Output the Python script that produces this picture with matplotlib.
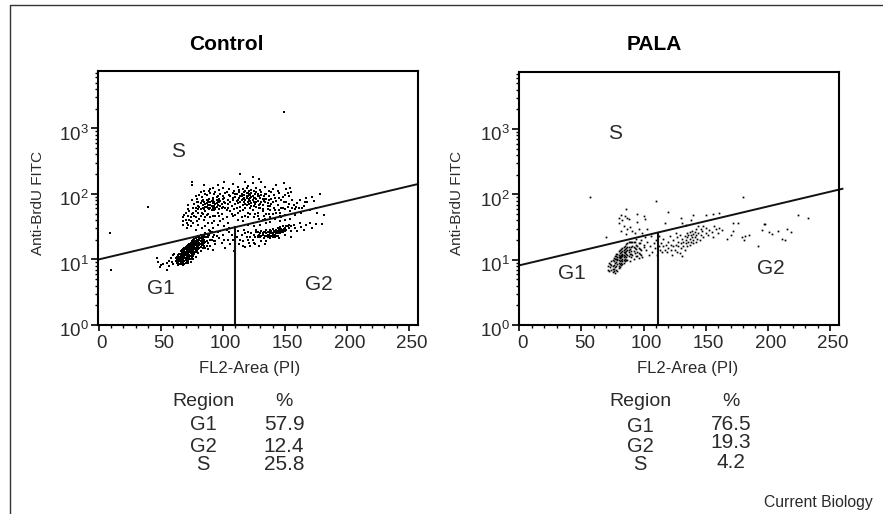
import numpy as np
import matplotlib
matplotlib.use('Agg')
import matplotlib.pyplot as plt
from matplotlib.lines import Line2D
from matplotlib.ticker import FixedLocator, NullFormatter
from matplotlib.transforms import ScaledTranslation

plt.rcParams['font.family'] = ['Liberation Sans', 'DejaVu Sans']
plt.rcParams['mathtext.fontset'] = 'custom'
plt.rcParams['mathtext.rm'] = 'Liberation Sans'
plt.rcParams['mathtext.default'] = 'regular'

TEXT = '#2a2a2a'

x_ticks = [0, 50, 100, 150, 200, 250]
region_names = ['G1', 'G2', 'S']
ctrl_pct = ['57.9', '12.4', '25.8']
pala_pct = ['76.5', '19.3', '4.2']

ctrl_gate = ([0, 256], [10, 140])
pala_gate = ([0, 260], [8.2, 122])
ctrl_split = ([110, 110], [1, 31])
pala_split = ([111.5, 111.5], [1, 26])

# (FL2, FITC), region by region
ctrl_g1 = [(62,9.5),(62,10.5),(63,8.8),(63,10),(63,11),(64,9),(64,9.8),(64,10.6),(64,11.5),(65,8.6),(65,9.4),(65,10.2),
    (65,11),(65,12),(66,9),(66,9.8),(66,10.5),(66,11.3),(66,12.3),(67,8.8),(67,9.6),(67,10.4),(67,11.1),(67,11.9),(67,12.8),
    (68,9.2),(68,10),(68,10.8),(68,11.6),(68,12.4),(68,13.2),(69,9.6),(69,10.4),(69,11.2),(69,12),(69,12.8),(69,13.8),
    (70,9.8),(70,10.7),(70,11.5),(70,12.3),(70,13.2),(70,14.2),(71,10.2),(71,11),(71,11.9),(71,12.7),(71,13.6),(71,14.6),
    (72,10.6),(72,11.4),(72,12.2),(72,13.1),(72,14),(72,15.2),(73,11),(73,11.9),(73,12.8),(73,13.7),(73,14.7),(73,15.8),
    (74,11.4),(74,12.4),(74,13.3),(74,14.3),(74,15.4),(74,16.6),(75,12),(75,13),(75,14),(75,15),(75,16.2),(75,17.4),
    (76,12.6),(76,13.6),(76,14.7),(76,15.8),(76,17),(76,18.2),(77,13.2),(77,14.3),(77,15.4),(77,16.6),(77,17.8),(77,19),
    (78,14),(78,15.2),(78,16.4),(78,17.6),(78,19),(79,14.8),(79,16),(79,17.2),(79,18.6),(79,20),(80,15.6),(80,17),(80,18.4),(80,20),
    (81,16.4),(81,18),(81,19.6),(81,21),(82,17.4),(82,19),(82,21),(83,18),(83,20),(84,19),(84,21),(85,16),(85,20),(86,22),(88,14.5),(88,18),
    (48,9),(50,8.2),(47,10.5),(52,8.5),(55,7),(55,8.8),(57,9.5),(57,8),(58,10.5),(60,11.5),(60,8.5),(61,12),(59,9.3),(49,7.8),(10,7),(9,25),(40,63),(149,1750)]

ctrl_g1_wide = [(66,13.5),(67,14),(68,14.5),(69,15),(70,15.5),(71,16),(72,16.8),(73,17.4),(74,18),(75,18.8),(76,19.6),(77,20.5),(78,21),(79,22),(80,23),(81,23),
    (82,24),(83,22),(84,24),(85,23),(86,25),(87,19),(87,22),(88,24),(72,9.5),(73,10),(74,10.3),(75,10.8),(76,11.4),(77,12),(78,12.8),(79,13.4),(80,14.2),(81,15),
    (82,15.6),(83,16.5),(84,17.2),(85,18),(86,18.5),(86,15),(87,16),(69,8.6),(70,8.9),(71,9.2),(72,8.8),(66,8.4),(68,8.3),(64,8.3),(74,9.3),(76,10.2),(78,11),(80,12.4),
    (82,13.6),(84,15),(90,16),(90,20),(92,14),(92,22),(89,24),(91,26),(94,19)]

ctrl_s = [(114,198),(124,178),(129,168),(75,150),(75,135),(85,135),(101,150),(108,140),(118,150),(124,145),(131,150),(149,148),(143,135),(96,135),
    (92,122),(100,125),(105,118),(112,128),(120,130),(127,122),(134,128),(140,118),(151,118),(154,125),(116,118),(89,112),(82,108),
    (86,100),(90,104),(94,106),(98,100),(103,108),(108,103),(111,99),(113,107),(115,101),(118,110),(120,104),(122,97),(125,110),(128,100),(131,106),(135,98),(139,108),(145,102),(150,96),(155,108),
    (78,92),(83,90),(87,95),(92,88),(96,92),(101,86),(106,94),(110,90),(114,92),(117,88),(119,94),(121,84),(123,90),(126,86),(129,94),(133,84),(137,92),(142,88),(147,82),(153,92),
    (75,80),(79,76),(82,72),(84,82),(86,70),(88,78),(90,74),(92,82),(94,70),(96,78),(98,66),(101,76),(104,70),(108,80),(112,72),(115,80),(117,74),(119,68),(121,78),(123,72),(125,66),(127,76),(130,70),(133,78),(136,66),(140,74),(144,68),(149,76),(152,64),
    (72,68),(76,60),(80,66),(82,58),(84,62),(86,54),(87,64),(89,58),(91,66),(93,56),(94,62),(96,52),(99,60),(103,56),(107,50),(111,62),(114,54),(118,60),(120,52),(122,62),(124,56),(126,50),(129,60),(132,54),(136,58),(140,50),(145,56),(150,48),(156,60),
    (70,52),(72,46),(75,50),(78,44),(80,52),(82,46),(85,40),(87,48),(90,44),(93,38),(97,46),(100,42),(104,36),(108,46),(112,40),(116,38),(120,44),(124,36),(128,46),(132,40),(134,42),(138,44),(142,42),(146,46),(150,40),(154,42),
    (68,44),(68,38),(68,33),(71,36),(73,40),(71,30),(74,32),(76,36),(78,28),(80,34),(83,30),(86,32),(89,28),(92,30),(96,34),(101,32),(105,30),(120,34),(125,32),(130,34),(135,36),(138,37),(146,38),
    (148,62),(153,70),(158,58),(162,80),(165,66),(168,74),(170,56),(172,90),(175,62),(178,98),(173,78),(167,88),(160,72),(181,48),(176,52),(163,52),(158,48)]

ctrl_s_dense = [(80,74),(81,64),(83,78),(84,68),(85,58),(85,74),(86,64),(87,82),(87,72),(88,60),(88,68),(89,84),(89,74),(90,62),(90,68),(91,78),(91,56),(92,72),(92,62),(93,76),(93,66),(94,58),(95,82),(95,72),
    (95,64),(96,68),(97,84),(97,74),(97,58),(98,78),(99,70),(100,64),(100,84),(102,72),(110,98),(112,82),(113,88),(114,76),(115,92),(116,84),(116,68),(117,96),(118,80),(118,70),(119,86),(119,104),(120,76),(120,92),
    (121,70),(121,98),(122,86),(122,78),(123,66),(123,104),(124,82),(124,94),(125,74),(125,88),(126,98),(126,70),(127,84),(127,64),(128,92),(128,78),(129,68),(130,86),(130,62),(131,96),(131,76),(132,84),(132,68),(133,92),(134,74),(135,84),(136,72),(137,80),(138,66),(139,84),
    (72,58),(74,44),(76,52),(73,54),(74,38),(77,46),(78,62),(79,38),(81,42),(84,50),(70,40),(72,34),(69,48),(88,36),(92,46),(98,38),(104,62),(106,76),(109,58),(110,70),(128,52),(133,46),(137,50),(141,62),(143,52),(147,60),(147,44)]

ctrl_s_sprinkle = [(77,70),(78,54),(79,84),(80,58),(81,96),(83,52),(85,110),(86,44),(88,50),(90,118),(91,36),(93,100),(94,46),(95,90),(97,116),(99,50),(100,94),(102,62),(102,104),(103,44),(104,82),(105,96),(106,54),(107,66),(108,88),
    (109,112),(110,48),(111,78),(112,52),(113,116),(114,64),(115,44),(116,56),(117,108),(118,46),(119,122),(121,112),(122,50),(123,116),(125,44),(127,108),(129,42),(130,116),(132,58),(134,100),(135,50),(137,112),(138,56),(139,70),(141,96),(142,56),(143,78),(144,112),(145,86),(146,52),(148,90),(150,58),(151,74),(152,104),(154,54),(156,82),(157,68),(159,64),(161,60),(164,60),(166,76)]

ctrl_mid = [(86,25),(88,22),(90,27),(91,20),(93,24),(94,17),(96,26),(97,21),(99,18),(100,24),(102,15),(103,28),(104,20),(106,17),(107,24),(109,13.5),
    (111,22),(112,27),(113,17),(115,24),(116,19),(117,28),(118,15.5),(119,22),(120,26),(121,18),(122,16),(123,25),(124,20),(126,17),(127,28),(128,22),
    (93,19),(95,23),(98,27),(101,20),(105,26),(108,20),(110,16),(114,20),(116,16),(118,25),(120,20),(122,22),(125,18),(129,16),(131,19),(134,17)]

ctrl_g2 = [(125,24),(127,26),(128,23),(130,25),(130,22),(131,27),(132,24),(133,21),(133,26),(134,23),(135,25),(135,28),(136,22),(136,24),(137,26),(137,23),
    (138,21),(138,25),(138,28),(139,23),(139,27),(140,22),(140,25),(140,29),(141,24),(141,27),(142,22),(142,26),(143,25),(143,28),(144,23),(144,27),(144,30),
    (145,25),(145,29),(146,27),(146,31),(147,26),(147,29),(148,28),(148,32),(149,27),(150,30),(151,28),(152,32),(153,30),(155,27),(157,34),(158,30),(160,27),
    (162,36),(163,31),(165,28),(167,33),(170,36),(172,30),(175,35),(180,35),(135,19),(145,21),(150,24),(155,22),
    (129,24),(131,23),(132,25),(134,26),(135,23),(136,26),(137,24),(138,23),(139,25),(140,24),(141,26),(141,22),(142,24),(143,23),(143,27),(144,25),(145,27),(146,25),(147,28),(148,26),(149,29),(150,27),(128,26),(126,22),(151,32),(153,33),(155,32)]

pala_g1 = [(71,8),(71,7),(72,9),(72,6.6),(73,7.6),(73,8.6),(74,7),(74,9.5),(75,6.4),(75,8),(75,10),(76,7.2),(76,8.4),(76,9.6),(77,6.2),(77,7.6),(77,8.8),(77,10.4),
    (78,8),(78,9.2),(78,10.2),(78,11.2),(79,6.8),(79,8.6),(79,9.8),(79,11),(80,8),(80,9),(80,10),(80,11),(80,12),(81,8.6),(81,9.6),(81,10.6),(81,11.6),(81,12.6),
    (82,9),(82,10),(82,11),(82,12),(82,13),(83,9.4),(83,10.4),(83,11.4),(83,12.4),(83,13.4),(84,10),(84,11),(84,12),(84,13),(84,14),(85,10.4),(85,11.6),(85,12.6),(85,14.4),
    (86,11),(86,12.4),(86,15),(87,10),(87,12),(87,14),(87,15.8),(88,11.4),(88,13),(88,15.6),(89,9.4),(89,12.4),(89,14.6),(90,11),(90,13.4),(90,15.8),(91,12),(91,16.4),(92,10.4),(92,13.6),
    (93,15.2),(94,11.6),(94,17),(95,13),(96,10.8),(96,15),(97,12.4),(97,17.8),(98,14),(99,11),(100,15.6)]

pala_g1_dense = [(79,12.4),(80,13.4),(81,14),(82,14.6),(83,15),(84,15.6),(85,16.4),(86,17.2),(87,18),(88,18.4),(89,18.6),(90,18.6),(91,18.6),(92,18.6),(93,18.4),(94,14.4),(95,16),(96,12.6),(97,14.8),(98,11.8),
    (75,7.2),(76,6.6),(78,7),(80,7.4),(81,7.8),(82,8.2),(83,8.6),(84,9),(85,9.4),(86,9.8),(78,12.4),(77,11.6),(76,10.8),(74,8.2),(79,10.4),(81,11),(83,12),(85,13.2),(86,13.6),(88,14.2),(90,12.2),(92,15.4),(93,12.8),(95,11.2)]

pala_s = [(57,92),(110,78),(120,53),(180,92),(86,60),(82,48),(85,46),(87,44),(80,43),(83,40),(88,42),(95,50),(100,46),(80,36),(84,33),(87,30),(89,32),(91,28),(82,28),
    (95,38),(101,42),(96,30),(99,26),(103,30),(93,26),(86,25),(70,22),(140,48),(150,48),(156,50),(161,52),(130,44),(131,36),(117,37),(134,34),(138,40)]

pala_mid = [(94,21),(96,18),(98,20),(100,17),(101,22),(102,14),(103,19),(104,12),(105,16),(106,23),(107,13),(108,18),(109,15),(110,20),(111,12),(112,16),(112,23),
    (113,14),(114,18),(115,13),(116,16),(116,21),(117,14),(118,17),(119,13),(120,19),(120,15),(121,23),(122,14),(122,17),(123,12),(124,16),(124,20),(125,14),(126,17),(126,26),
    (127,13),(127,22),(128,16),(128,19),(129,12.5),(129,24),(130,15),(130,18),(131,21),(131,11.5),(132,16),(132,19),(133,23),(133,14),(134,18),(134,20),(135,16),(135,22),(135,26),
    (136,19),(136,24),(137,17),(137,21),(137,27),(138,19),(138,24),(139,22),(139,28),(140,18),(140,20),(140,25),(141,22),(141,27),(142,19),(142,24),(142,30),(143,21),(144,26),(144,33),
    (145,20),(146,24),(146,30),(147,28),(148,22),(148,33),(150,26),(150,31),(152,24),(153,29),(155,27),(156,22),(157,33),(158,30),(160,26),(161,31),(163,29),(167,21),(170,24),(172,28)]

pala_g2 = [(172,36),(176,36),(179,22),(181,20),(182,23),(185,24),(192,16.5),(195,29),(197,35),(198,35),(201,27),(203,25),(208,28),(211,21),(214,20),(215,30),(219,27),(224,48),(232,44)]


def draw_panel(ax, dots, gate, split, labels, ms):
    pts = np.array(dots)
    ax.plot(pts[:, 0], pts[:, 1], ls='none', marker='s', ms=ms, mew=0, color='black')
    ax.plot(gate[0], gate[1], color='#111111', lw=1.4, clip_on=False)
    ax.plot(split[0], split[1], color='#111111', lw=1.5)
    ax.set_xlim(-0.5, 257)
    ax.set_ylim(1, 7500)
    ax.set_yscale('log')
    ax.set_yticks([1, 10, 100, 1000])
    ax.yaxis.set_minor_locator(FixedLocator([m * 10 ** d for d in range(4) for m in range(2, 10) if m * 10 ** d < 7500]))
    ax.yaxis.set_minor_formatter(NullFormatter())
    ax.set_xticks(x_ticks)
    ax.set_xticks(np.arange(0, 257, 10), minor=True)
    ax.tick_params(axis='both', which='major', length=5, width=1.2, labelsize=13.5, labelcolor=TEXT)
    ax.tick_params(axis='x', which='major', length=4, pad=3.5)
    ax.tick_params(axis='y', which='major', pad=1.5)
    ax.tick_params(axis='both', which='minor', length=2.5, width=1)
    # tick labels sit a little right of / below their ticks in the original
    for lab in ax.get_xticklabels():
        lab.set_transform(lab.get_transform() + ScaledTranslation(2 / 72, 0, fig.dpi_scale_trans))
    for lab in ax.get_yticklabels():
        lab.set_transform(lab.get_transform() + ScaledTranslation(0, -3 / 72, fig.dpi_scale_trans))
    for s in ax.spines.values():
        s.set_linewidth(1.5)
    for name, lx, ly in labels:
        ax.text(lx, ly, name, fontsize=15, color=TEXT, ha='center', va='center')


W, H = 883, 514
fig = plt.figure(figsize=(W / 100, H / 100), dpi=100)
ax1 = fig.add_axes([98 / W, 1 - 325 / H, 320 / W, 254 / H])
ax2 = fig.add_axes([518.7 / W, 1 - 325 / H, 320 / W, 253 / H])

draw_panel(ax1, ctrl_g1 + ctrl_g1_wide + ctrl_s + ctrl_s_dense + ctrl_s_sprinkle + ctrl_mid + ctrl_g2, ctrl_gate, ctrl_split,
           [('S', 64, 438), ('G1', 50, 3.6), ('G2', 177, 4.1)], 1.5)
draw_panel(ax2, pala_g1 + pala_g1_dense + pala_s + pala_mid + pala_g2, pala_gate, pala_split,
           [('S', 77, 850), ('G1', 42, 6.2), ('G2', 202, 7.4)], 1.25)


def ftext(x, y, s, **kw):
    kw.setdefault('color', TEXT)
    kw.setdefault('ha', 'center')
    kw.setdefault('va', 'center')
    fig.text(x / W, 1 - y / H, s, **kw)


ftext(226, 44, 'Control', fontsize=15, fontweight='bold', color='black')
ftext(654, 44, 'PALA', fontsize=15, fontweight='bold', color='black')
for cx, cy in [(250, 369), (688, 369)]:
    ftext(cx, cy, 'FL2-Area (PI)', fontsize=12)
for cx in [38, 457]:
    ftext(cx, 203, 'Anti-BrdU FITC', fontsize=11, rotation=90)


def draw_table(cx_name, cx_pct, ys_name, ys_pct, pct):
    ftext(cx_name, 401, 'Region', fontsize=14)
    ftext(cx_pct, 401, '%', fontsize=14)
    for name, val, yn, yp in zip(region_names, pct, ys_name, ys_pct):
        ftext(cx_name, yn, name, fontsize=14.5)
        ftext(cx_pct, yp, val, fontsize=15)


draw_table(203, 284, [425, 446, 465], [425, 446, 465], ctrl_pct)
draw_table(640, 731, [427, 447, 465], [425, 443, 463], pala_pct)

ftext(873, 502, 'Current Biology', fontsize=11.3, ha='right')

fig.add_artist(Line2D([10 / W, 10 / W, 1], [0, 1 - 4.5 / H, 1 - 4.5 / H], color='#333333', lw=1.0))

fig.savefig('out.png', dpi=100)
plt.close()
